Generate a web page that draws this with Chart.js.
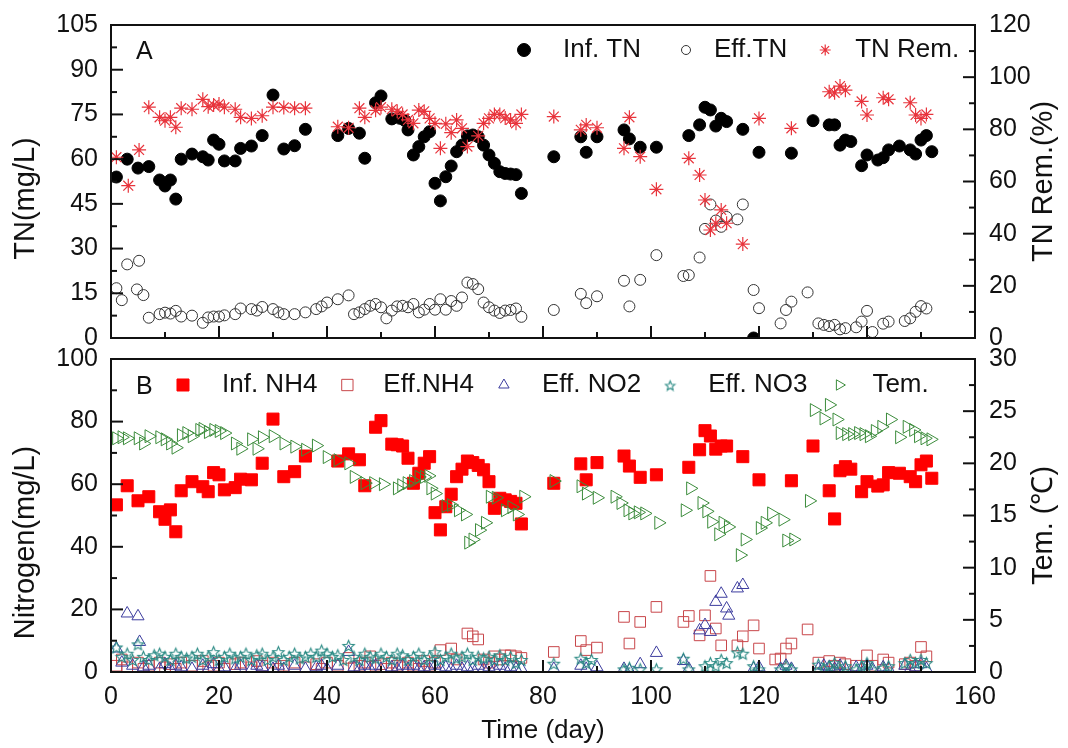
<!DOCTYPE html>
<html>
<head>
<meta charset="utf-8">
<script src="https://cdn.jsdelivr.net/npm/chart.js@4.4.1/dist/chart.umd.min.js"></script>
<style>
  body { margin: 0; background: #fff; }
  #wrap { position: relative; width: 1068px; height: 748px; }
  #wrap canvas { position: absolute; left: 0; }
  #topChart { top: 0; }
  #botChart { top: 345px; }
</style>
</head>
<body>
<div id="wrap">
  <canvas id="topChart" width="1068" height="352"></canvas>
  <canvas id="botChart" width="1068" height="403"></canvas>
</div>
<script>
// ---- panel A : [day, value] ----
const infTN = [[1,54],[3,60],[5,57],[7,57.5],[9,53],[10,51],[11,53],[12,46.6],[13,60],[15,61.7],[17,60.8],[18,59.7],[19,66.4],[20,65],[21,59.4],[23,59.4],[24,63.6],[26,64.4],[28,67.9],[30,81.5],[32,63.4],[34,64.5],[36,70],[42,67.9],[44,70.3],[46,68.7],[47,60.3],[49,78.9],[50,81.2],[52,73.5],[53.5,73.7],[54.4,73],[55,69.8],[56,61.4],[57,64.2],[58,67.5],[59,69.2],[60,51.9],[61,46],[62,54.1],[63,57.7],[64,62.5],[65,64.7],[66,67.8],[67,68.1],[68,67.5],[69,64.7],[70,61.4],[71,58.6],[72,55.8],[73,55.2],[74,55],[75,54.8],[76,48.5],[82,60.8],[87,67.5],[88,62.3],[90,67.5],[95,69.8],[96,66.8],[98,64],[101,64],[107,67.9],[109,71.5],[110,77.4],[111,76.5],[112,71.1],[113,73.7],[114,72.6],[117,70],[119,0],[120,62.3],[126,62],[130,72.9],[133,71.5],[134,71.5],[135,64.7],[136,66.4],[137,65.9],[139,57.8],[140,61.4],[142,59.7],[143,60.5],[144,63.1],[146,64.4],[148,63.1],[149,61.7],[150,66.4],[151,67.9],[152,62.5]];
const effTN = [[1,16.7],[2,12.7],[3,24.7],[4.8,16.3],[5.2,25.9],[6,14.4],[7,6.8],[9,8],[10,8.5],[11,8.2],[12,9.1],[13,7.2],[15,7.5],[17,5.1],[18,6.9],[19,7.2],[20,7.2],[21,7.6],[23,8],[24,9.9],[26,9.7],[27,9.2],[28,10.4],[30,9.7],[31,8.6],[32,8],[34,8],[36,8.6],[38,9.7],[39,10.6],[40,11.9],[42,13],[44,14.3],[45,8],[46,8.6],[47,9.7],[48,10.8],[49,11.4],[50,10.3],[51,6.6],[52,9.2],[53,10.6],[54,10.8],[55,10.3],[56,11.4],[57,8.6],[58,9.5],[59,11.4],[60,9.5],[61,13],[62,9.5],[63,12.4],[64,10.8],[65,13.6],[66,18.6],[67,18.1],[68,16.4],[69,11.9],[70,10.3],[71,9.2],[72,8.4],[73,9.2],[74,9.4],[75,9.9],[76,7.1],[82,9.4],[87,14.8],[88,11.7],[90,14],[95,19.2],[96,10.6],[98,19.5],[101,27.8],[106,20.8],[107,21.1],[109,27],[110,36.6],[111,44.8],[112,39.4],[113,37.3],[114,40.6],[116,39.8],[117,44.8],[119,16.1],[120,10],[124,4.9],[125,9.4],[126,12.2],[129,15.3],[131,4.9],[132,4.4],[133,4],[134,4.4],[135,2.9],[136,3.3],[138,3.6],[139,5.5],[140,9.1],[141,2],[143,4.8],[144,5.5],[147,5.7],[148,6.6],[149,8.8],[150,10.7],[151,9.9]];
const tnRem = [[1,69.3],[3.2,58.4],[5.2,72.1],[7,88.5],[9,84.6],[10,83.3],[11,84.6],[12,80.8],[13,88.1],[15,87.7],[17,91.5],[18,88.7],[19,89.3],[20,89.7],[21,88.5],[23,87.7],[24,84.6],[26,84.2],[28,85.2],[30,88.5],[32,88.4],[34,88.1],[36,88.1],[42,81],[44,80.6],[46,88.1],[47,84.6],[49,87.3],[50,88.5],[52,87.7],[53,86.9],[54,85.7],[55,83.6],[56,82.3],[57,87.4],[58,86.9],[59,84.2],[60,82.3],[61,72.7],[62,82.1],[63,78.7],[64,83.6],[65,80.4],[66,73.4],[68,77.5],[69,82.3],[70,84.2],[71,85.7],[72,85.7],[73,84.3],[74,83.6],[75,82.3],[76,85.7],[82,84.9],[87,79.8],[88,81.7],[90,80.6],[95,72.7],[96,84.6],[98,69.5],[101,57],[107,68.9],[109,62.5],[110,52.9],[111,41.4],[112,44],[113,49.1],[114,44],[117,36],[120,84.2],[126,80.4],[133,94.4],[134,94],[135,96.6],[136,95],[139,90.7],[140,85.5],[143,92.1],[144,91.5],[148,90.2],[149,85.5],[150,84.2],[151,85.7]];

// ---- panel B : [day, value] ----
const infNH4 = [[1,53.4],[3,59.5],[5,54.7],[7,56],[9,51.2],[10,48.8],[11,51.8],[12,44.8],[13,57.9],[15,60.8],[17,59.2],[18,57.6],[19,63.7],[20,63],[21,58.2],[23,58.9],[24,61.6],[26,61.4],[28,66.7],[30,80.8],[32,62.4],[34,64],[36,69],[42,67.4],[44,69.7],[46,67.8],[47,59.5],[49,78.2],[50,80.3],[52,72.8],[53,72.6],[54,72.2],[55,68.3],[56,60.3],[57,63.5],[58,66.7],[59,68.8],[60,50.9],[61,45.4],[62,52.8],[63,56.8],[64,62.4],[65,64.8],[66,67.4],[67,66.9],[68,66],[69,64.6],[70,60.8],[71,52.3],[72,55.5],[73,55],[74,54.5],[75,53.9],[76,47.3],[82,60.3],[87,66.5],[88,61.4],[90,66.9],[95,69],[96,65.8],[98,62.2],[101,63],[107,65.4],[109,71],[110,77.1],[111,75.4],[112,71.2],[113,72.2],[114,72.2],[117,68.8],[120,61.4],[126,61.1],[130,72.2],[133,57.9],[134,48.9],[135,64.3],[136,65.6],[137,64.8],[139,57.6],[140,60.8],[142,59.4],[143,59.8],[144,63.7],[146,63.5],[148,62.4],[149,60.8],[150,66.2],[151,67.4],[152,61.9]];
const effNH4 = [[1,2],[2,4],[3,1.5],[5,3],[6,1],[7,2],[9,3],[10,1.5],[11,2.5],[12,1],[13,3],[15,2],[17,3.5],[18,1.5],[19,2],[20,3],[21,1],[23,2.5],[24,3],[26,1.5],[27,3.5],[28,2],[30,3],[31,1],[32,2],[34,3],[36,1.5],[38,2.5],[39,1],[40,3],[42,2],[44,4.5],[45,1.5],[46,2],[47,3],[48,5],[49,2],[50,2.5],[51,1],[52,3],[53,2],[54,1.5],[55,3],[56,2],[57,1],[58,3.5],[59,2],[60,3],[61,7],[63,7.5],[64,4],[66,12.3],[67,11.4],[68,10.4],[69,4],[70,3],[71,5],[72,4],[73,5.3],[74,5.3],[75,5],[76,4.5],[82,6.4],[87,9.9],[88,7],[90,7.8],[95,17.6],[96,9.1],[98,16],[101,20.8],[106,16],[107,17.9],[109,11.7],[110,18.1],[111,30.7],[112,13.9],[113,8.5],[116,8.5],[117,11.4],[119,14.9],[120,7.5],[123,4],[124,4.3],[125,7.5],[126,9.1],[129,13.6],[131,3],[133,3.5],[134,2],[135,3],[136,2.5],[138,2],[140,5.3],[141,2],[143,4],[144,3],[147,2.5],[148,3],[149,2],[150,8],[151,5]];
const effNO2 = [[1,7.5],[2,3],[3,18.7],[4,2],[5,17.8],[5.3,9.6],[6,1.5],[7,2],[9,1],[10,2.5],[11,1],[12,2],[13,1.5],[15,1],[17,2],[18,1],[19,2.5],[20,1],[21,1.5],[23,1],[24,2],[26,1],[27,2],[28,1.5],[30,1],[31,2],[32,1],[34,2],[36,1],[38,1.5],[39,2],[40,1],[42,2],[44,6.4],[45,1.5],[46,1],[47,2],[48,1],[49,2],[50,1],[52,1.5],[53,1],[54,2],[55,1],[56,2],[57,1],[58,1.5],[59,1],[60,2],[61,1],[62,1.5],[63,1],[64,2],[65,1],[66,1.5],[67,1],[68,2],[69,1],[70,1.5],[71,1],[72,2],[73,1],[74,1.5],[75,1],[76,1],[82,1],[87,2],[88,1],[90,1.5],[95,1],[96,0.5],[98,2.5],[101,6.1],[106,3.5],[107,1],[109,13.3],[110,15],[111,12.8],[112,22.4],[113,25],[114,20.3],[114.4,18],[116,26.7],[117,27.8],[119,1],[120,1.5],[124,1],[125,2],[126,1],[131,1],[132,2],[133,1.5],[134,1],[135,2],[136,1],[138,1.5],[139,1],[140,2],[141,1],[143,1.5],[144,1],[147,2],[148,1],[149,1.5],[150,2.5],[151,1]];
const effNO3 = [[1,8],[2,5],[3,6],[4,4],[5,9],[6,5],[7,4],[8,5.5],[9,6],[10,5],[11,4],[12,6],[13,5],[14,4.5],[15,5],[16,6],[17,4],[18,5],[19,6.5],[20,4],[21,5],[22,6],[23,4.5],[24,5],[25,6],[26,4],[27,5.5],[28,6],[29,4],[30,5],[31,6.5],[32,4],[33,5],[34,6],[35,4.5],[36,5],[37,6],[38,5],[39,7],[40,6],[41,5],[42,5.5],[43,4],[44,8.5],[45,5],[46,4],[47,6],[48,5],[49,4.5],[50,6],[51,5],[52,4],[53,6],[54,5.5],[55,4],[56,5],[57,6],[58,4],[59,5],[60,6.5],[61,4],[62,5],[63,6],[64,4.5],[65,5],[66,6],[67,4],[68,5],[69,4.5],[70,5],[71,4],[72,5.5],[73,4],[74,5],[75,3],[76,4],[82,2.8],[87,4.4],[88,3],[89,4],[95,1],[96,1.5],[98,1],[101,1],[106,4.4],[107,1],[110,2],[111,3],[112,2],[113,4],[114,3],[116,6.4],[117,6],[119,2],[120,1],[124,1],[125,2],[126,1],[131,2.5],[132,1],[133,2],[134,3],[135,1],[136,2],[138,1],[139,2],[140,3],[141,1],[143,1.5],[144,2],[147,3],[148,4],[149,3],[150,4],[151,3]];
const tem = [[1,22.4],[2,22.5],[3,22.4],[5,22.4],[6,21.9],[7,22.6],[9,22.5],[10,22.3],[11,21.9],[12,21.5],[13,22.7],[14,22.9],[15,22.6],[16.4,23.2],[17,23.3],[18,23],[19,23.2],[20,23.1],[21,22.9],[23,21.9],[24,21.4],[26,22.3],[27,21.4],[28,22.5],[30,22.6],[32,21.9],[34,21.6],[36,21.3],[38,21.7],[40,20.6],[42,20.3],[44,20],[45,18.7],[47,18.1],[48.6,18.1],[50.4,18],[53,17.6],[53.8,17.9],[54.8,18.1],[56,18.3],[57,18.7],[58,18.7],[58.8,18.8],[59.2,17.6],[60,17.1],[62,15.9],[63,16],[64.3,15.5],[65.6,15.1],[66.2,12.4],[67,12.7],[68.2,13.6],[69.3,14.3],[70.2,16.8],[71.3,16.7],[73,15.5],[74.2,15.8],[75.2,15.1],[76.4,16.8],[82,18.3],[87,17.8],[88,17.1],[90,16.7],[93.3,16.8],[94.4,16.2],[95.7,15.5],[96.6,15.2],[97.6,15.3],[98.8,15.2],[101.4,14.3],[106.3,15.5],[107.3,17.6],[109.4,16.2],[110.3,15.4],[111.2,14.4],[112.5,13.2],[113.3,14.3],[114.3,13.9],[116.5,11.2],[117.4,12.7],[120.2,13.8],[121.1,14.3],[122.3,15.2],[124.4,14.6],[125.1,12.6],[126.4,12.7],[129.3,16.4],[130.2,25.1],[132,24.3],[133,25.6],[134.4,24.2],[135,22.9],[136.2,22.8],[137.3,22.8],[138.4,22.9],[139.4,22.8],[140.4,22.6],[141.5,23.1],[142.7,23.5],[144.3,24.2],[146,22.5],[147.4,23.5],[148.6,23.2],[149.5,22.6],[150.7,22.4],[151.8,22.3]];

const dayTicks = [0, 160, 20];
const FONT = '"Liberation Sans", Arial, sans-serif';
Chart.defaults.font.family = FONT;
Chart.defaults.font.size = 25;
Chart.defaults.color = '#111';

function pts(arr) {
  return arr.map(p => ({ x: p[0], y: p[1] }));
}

// outlined five point star used for Eff. NO3
function starImage(r, color) {
  const c = document.createElement('canvas');
  const s = Math.ceil(r * 2 + 3);
  c.width = s; c.height = s;
  const g = c.getContext('2d');
  g.strokeStyle = color;
  g.lineWidth = 1.1;
  g.beginPath();
  for (let i = 0; i < 10; i++) {
    const ang = -Math.PI / 2 + i * Math.PI / 5;
    const rr = i % 2 ? r * 0.45 : r;
    const px = s / 2 + rr * Math.cos(ang), py = s / 2 + 1 + rr * Math.sin(ang);
    if (i) g.lineTo(px, py); else g.moveTo(px, py);
  }
  g.closePath();
  g.stroke();
  return c;
}

// box, inward ticks and the two rotated axis titles
const frame = {
  id: 'frame',
  afterDraw(chart, args, opts) {
    const { ctx, chartArea: a, scales } = chart;
    ctx.save();
    ctx.strokeStyle = '#111';
    ctx.lineWidth = 2;
    ctx.strokeRect(a.left, a.top, a.right - a.left, a.bottom - a.top);
    Object.values(scales).forEach(s => {
      const vals = s.ticks.map(t => t.value);
      if (vals.length < 2) return;
      const step = vals[1] - vals[0];
      const marks = [];
      vals.forEach(v => {
        marks.push([v, 12]);
        if (v + step / 2 <= s.max) marks.push([v + step / 2, 6]);
      });
      marks.forEach(([v, len]) => {
        const p = s.getPixelForValue(v);
        ctx.beginPath();
        if (s.axis === 'x') { ctx.moveTo(p, a.bottom); ctx.lineTo(p, a.bottom - len); }
        else if (s.position === 'left') { ctx.moveTo(a.left, p); ctx.lineTo(a.left + len, p); }
        else { ctx.moveTo(a.right, p); ctx.lineTo(a.right - len, p); }
        ctx.stroke();
      });
    });
    (opts.titles || []).forEach(t => {
      ctx.save();
      ctx.translate(t.x, (a.top + a.bottom) / 2 + t.dy);
      ctx.rotate(-Math.PI / 2);
      ctx.font = '29px ' + FONT;
      ctx.fillStyle = '#111';
      ctx.textAlign = 'center';
      ctx.textBaseline = 'alphabetic';
      ctx.fillText(t.text, 0, 0);
      ctx.restore();
    });
    ctx.restore();
  }
};

// legend row drawn inside the plot box
const insideLegend = {
  id: 'insideLegend',
  afterDraw(chart, args, opts) {
    if (!opts.items) return;
    const { ctx, chartArea: a } = chart;
    ctx.save();
    ctx.textBaseline = 'middle';
    ctx.font = '25px ' + FONT;
    ctx.fillStyle = '#111';
    ctx.fillText(opts.tag, opts.tagX, a.top + opts.tagDy);
    ctx.font = '26px ' + FONT;
    const y = a.top + opts.dy;
    let x = opts.x;
    opts.items.forEach(it => {
      const ds = chart.data.datasets[it.ds];
      ctx.fillStyle = ds.backgroundColor;
      ctx.strokeStyle = ds.borderColor;
      ctx.lineWidth = ds.borderWidth;
      Chart.helpers.drawPoint(ctx, {
        pointStyle: it.style || ds.pointStyle,
        rotation: ds.rotation || 0,
        radius: it.r,
        borderWidth: ds.borderWidth
      }, x, y);
      ctx.fillStyle = '#111';
      const tx = x + it.gm;
      ctx.fillText(ds.label, tx, y);
      x = tx + ctx.measureText(ds.label).width + (it.gi || 0);
    });
    ctx.restore();
  }
};

function yAxis(pos, min, max, step, width) {
  return {
    type: 'linear', position: pos, min: min, max: max,
    grid: { display: false, drawTicks: false },
    border: { display: false },
    ticks: { stepSize: step, padding: pos === 'left' ? 13 : 14, font: { size: 25 } },
    afterFit: s => {
      s.width = width;
      s.paddingTop = 0;
      s.paddingBottom = 0;
    }
  };
}

new Chart(document.getElementById('topChart'), {
  type: 'scatter',
  data: {
    datasets: [
      { label: 'Inf. TN', data: pts(infTN), yAxisID: 'y', order: 1, clip: 0,
        pointStyle: 'circle', pointRadius: 6, backgroundColor: '#000', borderColor: '#000', borderWidth: 1 },
      { label: 'Eff.TN', data: pts(effTN), yAxisID: 'y', order: 2, clip: 0,
        pointStyle: 'circle', pointRadius: 5.5, backgroundColor: 'rgba(0,0,0,0)', borderColor: '#333', borderWidth: 1 },
      { label: 'TN Rem.', data: pts(tnRem), yAxisID: 'y2', order: 0, clip: 0,
        pointStyle: 'star', pointRadius: 7, backgroundColor: 'rgba(0,0,0,0)', borderColor: '#e8343c', borderWidth: 1.2 }
    ]
  },
  options: {
    responsive: false,
    animation: false,
    layout: { padding: { top: 25, bottom: 14, left: 0, right: 0 } },
    scales: {
      x: { type: 'linear', min: dayTicks[0], max: dayTicks[1], display: false, ticks: { stepSize: dayTicks[2] } },
      y: yAxis('left', 0, 105, 15, 111),
      y2: yAxis('right', 0, 120, 20, 93)
    },
    plugins: {
      legend: { display: false },
      tooltip: { enabled: false },
      frame: { titles: [{ text: 'TN(mg/L)', x: 34, dy: 17 }, { text: 'TN Rem.(%)', x: 1052, dy: 0 }] },
      insideLegend: {
        tag: 'A', tagX: 136, tagDy: 27, dy: 25, x: 524,
        items: [{ ds: 0, r: 6.5, gm: 39, gi: 45 }, { ds: 1, r: 4.5, gm: 28, gi: 38 }, { ds: 2, r: 5.5, gm: 30 }]
      }
    }
  },
  plugins: [frame, insideLegend]
});

const star = starImage(6, '#2a8a84');
const starSmall = starImage(5, '#2a8a84');

new Chart(document.getElementById('botChart'), {
  type: 'scatter',
  data: {
    datasets: [
      { label: 'Inf. NH4', data: pts(infNH4), yAxisID: 'y', order: 1, clip: 0,
        pointStyle: 'rect', pointRadius: 8.5, backgroundColor: '#ff0000', borderColor: '#ff0000', borderWidth: 1 },
      { label: 'Eff.NH4', data: pts(effNH4), yAxisID: 'y', order: 4, clip: 0,
        pointStyle: 'rect', pointRadius: 7.5, backgroundColor: 'rgba(0,0,0,0)', borderColor: '#c8464a', borderWidth: 1 },
      { label: 'Eff. NO2', data: pts(effNO2), yAxisID: 'y', order: 3, clip: 0,
        pointStyle: 'triangle', pointRadius: 7, backgroundColor: 'rgba(0,0,0,0)', borderColor: '#3c3c9e', borderWidth: 1 },
      { label: 'Eff. NO3', data: pts(effNO3), yAxisID: 'y', order: 2, clip: 0,
        pointStyle: star, pointRadius: 6, backgroundColor: 'rgba(0,0,0,0)', borderColor: '#2a8a84', borderWidth: 1 },
      { label: 'Tem.', data: pts(tem), yAxisID: 'y2', order: 0, clip: 0,
        pointStyle: 'triangle', rotation: 90, pointRotation: 90, pointRadius: 7.5,
        backgroundColor: 'rgba(0,0,0,0)', borderColor: '#3c8c3c', borderWidth: 1 }
    ]
  },
  options: {
    responsive: false,
    animation: false,
    layout: { padding: { top: 14, bottom: 0, left: 0, right: 0 } },
    scales: {
      x: {
        type: 'linear', position: 'bottom', min: dayTicks[0], max: dayTicks[1],
        grid: { display: false, drawTicks: false },
        border: { display: false },
        ticks: { stepSize: dayTicks[2], padding: 10, autoSkip: false, maxRotation: 0 },
        title: { display: true, text: 'Time (day)', font: { size: 26 }, padding: { top: 0, bottom: 2 } },
        afterFit: s => { s.height = 76; }
      },
      y: yAxis('left', 0, 100, 20, 111),
      y2: yAxis('right', 0, 30, 5, 93)
    },
    plugins: {
      legend: { display: false },
      tooltip: { enabled: false },
      frame: { titles: [{ text: 'Nitrogen(mg/L)', x: 34, dy: 27 }, { text: 'Tem. (\u2103)', x: 1052, dy: 10 }] },
      insideLegend: {
        tag: 'B', tagX: 136, tagDy: 28, dy: 26, x: 183,
        items: [
          { ds: 0, r: 8.5, gm: 39, gi: 30 },
          { ds: 1, r: 8, gm: 36, gi: 30 },
          { ds: 2, r: 6, gm: 38, gi: 29 },
          { ds: 3, r: 5, style: starSmall, gm: 38, gi: 32 },
          { ds: 4, r: 6, gm: 33 }
        ]
      }
    }
  },
  plugins: [frame, insideLegend]
});
</script>
</body>
</html>
